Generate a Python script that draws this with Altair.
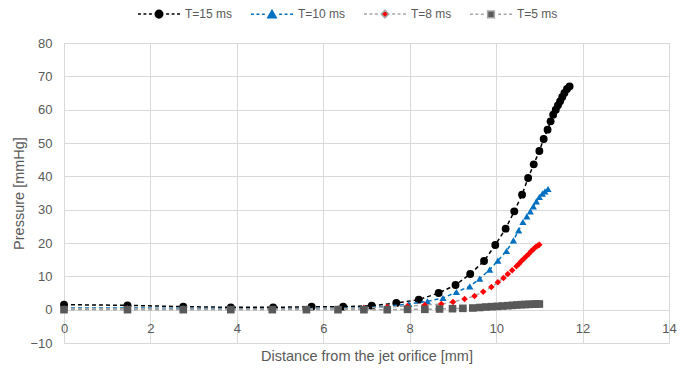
import altair as alt
import pandas as pd

series_names = ["T=15 ms", "T=10 ms", "T=8 ms", "T=5 ms"]

x15 = [0, 1.47, 2.76, 3.86, 4.84, 5.73, 6.46, 7.12, 7.69, 8.21, 8.67, 9.06, 9.4, 9.72, 9.98,
       10.22, 10.42, 10.6, 10.74, 10.87, 11.0, 11.1, 11.19, 11.26, 11.32, 11.38, 11.43, 11.48,
       11.53, 11.58, 11.64, 11.7]
y15 = [1.5, 1.3, 0.9, 0.7, 0.7, 0.9, 0.9, 1.2, 2.0, 3.0, 5.0, 7.4, 10.7, 14.6, 19.4,
       24.3, 29.5, 34.5, 39.5, 43.6, 47.6, 51.2, 54.0, 56.5, 58.5, 60.0, 61.3, 62.5,
       63.8, 65.0, 66.2, 67.0]

x10 = [0, 1.47, 2.76, 3.86, 4.82, 5.61, 6.34, 6.94, 7.48, 7.98, 8.41, 8.77, 9.08, 9.39, 9.62,
       9.85, 10.04, 10.24, 10.4, 10.52, 10.62, 10.71, 10.79, 10.86, 10.93, 11.0, 11.07, 11.13, 11.2]
y10 = [0.5, 0.5, 0.4, 0.3, 0.3, 0.3, 0.4, 0.6, 1.0, 1.7, 2.5, 3.5, 5.3, 7.0, 9.3,
       12.0, 14.7, 17.6, 20.8, 23.8, 26.3, 28.0, 29.5, 31.0, 32.5, 33.8, 34.8, 35.5, 36.2]

x8 = [0, 1.47, 2.76, 3.86, 4.82, 5.61, 6.34, 6.94, 7.48, 7.95, 8.35, 8.73, 9.0, 9.27, 9.5,
      9.7, 9.89, 10.04, 10.17, 10.27, 10.37, 10.47, 10.53, 10.58, 10.64, 10.7, 10.76, 10.81,
      10.86, 10.91, 10.96, 11.0]
y8 = [0.3, 0.3, 0.2, 0.2, 0.2, 0.2, 0.3, 0.5, 0.8, 1.1, 1.4, 1.7, 2.3, 3.2, 4.1,
      5.4, 6.8, 8.2, 9.5, 10.7, 11.8, 13.0, 13.8, 14.5, 15.3, 16.0, 16.8, 17.5,
      18.1, 18.7, 19.2, 19.5]

x5 = [0, 1.47, 2.76, 3.86, 4.82, 5.61, 6.34, 6.94, 7.48, 7.95, 8.35, 8.69, 8.99, 9.23, 9.46,
      9.62, 9.76, 9.9, 10.03, 10.15, 10.27, 10.38, 10.48, 10.58, 10.67, 10.76, 10.85, 10.93, 11.0]
y5 = [0, 0, 0, 0, 0, 0, 0, 0, 0, 0.1, 0.1, 0.2, 0.3, 0.4, 0.5,
      0.65, 0.8, 0.9, 1.0, 1.1, 1.2, 1.3, 1.4, 1.5, 1.55, 1.6, 1.65, 1.7, 1.7]

x_ticks = [0, 2, 4, 6, 8, 10, 12, 14]
y_ticks = [-10, 0, 10, 20, 30, 40, 50, 60, 70, 80]

line_colors = ["#000000", "#0070C0", "#A5A5A5", "#A5A5A5"]
marker_colors = ["#000000", "#0070C0", "#FF0000", "#595959"]
marker_shapes = ["circle", "triangle-up", "diamond", "square"]
marker_sizes = [62, 52, 42, 58]

# legend glyphs: dashed line with the marker in the middle (unit box -1..1)
dashes = ("M-1,0L-0.86,0M-0.74,0L-0.6,0M-0.48,0L-0.34,0"
          "M0.34,0L0.48,0M0.6,0L0.74,0M0.86,0L1,0")
legend_paths = [
    dashes + "M0.18,0A0.18,0.18,0,1,1,-0.18,0A0.18,0.18,0,1,1,0.18,0Z",
    dashes + "M0,-0.19L0.2,0.16L-0.2,0.16Z",
    dashes + "M0,-0.18L0.18,0L0,0.18L-0.18,0Z",
    dashes + "M-0.16,-0.16L0.16,-0.16L0.16,0.16L-0.16,0.16Z",
]

all_x = [x15, x10, x8, x5]
all_y = [y15, y10, y8, y5]
frames = []
for name, xs, ys in zip(series_names, all_x, all_y):
    frames.append(pd.DataFrame({"series": name, "x": xs, "y": ys, "idx": list(range(len(xs)))}))
df = pd.concat(frames, ignore_index=True)

FONT = "Liberation Sans"
TXT = "#595959"
GRID = "#D9D9D9"

xscale = alt.Scale(domain=[0, 14], nice=False, zero=False)
yscale = alt.Scale(domain=[-10, 80], nice=False, zero=False)

x_axis = alt.Axis(values=x_ticks, offset=-33, grid=True, gridColor=GRID, ticks=False, tickSize=0,
                  domain=True, domainColor=GRID, labelPadding=12, labelFlush=False,
                  labelFont=FONT, labelFontSize=13, labelColor=TXT,
                  title="Distance from the jet orifice [mm]", titleFont=FONT,
                  titleFontSize=14.5, titleFontWeight="normal", titleColor=TXT, titleY=46,
                  titleBaseline="middle")
y_axis = alt.Axis(values=y_ticks, grid=True, gridColor=GRID, ticks=False, tickSize=0, domain=False,
                  labelPadding=12, labelFont=FONT, labelFontSize=13, labelColor=TXT,
                  title="Pressure [mmHg]", titleFont=FONT, titleFontSize=14.5,
                  titleFontWeight="normal", titleColor=TXT, titlePadding=3)

xenc = alt.X("x:Q", scale=xscale, axis=x_axis)
yenc = alt.Y("y:Q", scale=yscale, axis=y_axis)

layers = []
for i, name in enumerate(series_names):
    sub = alt.Chart(df).transform_filter(alt.datum.series == name)
    line = sub.mark_line(color=line_colors[i], strokeWidth=1.5, strokeDash=[4, 3]).encode(
        x=xenc, y=yenc, order="idx:Q")
    pts = sub.mark_point(filled=True, shape=marker_shapes[i], color=marker_colors[i],
                         size=marker_sizes[i], opacity=1).encode(x=xenc, y=yenc)
    layers += [line, pts]

leg = alt.Legend(orient="none", legendX=73, legendY=-51, direction="horizontal", title=None,
                 labelFont=FONT, labelFontSize=12, labelColor=TXT, columnPadding=15,
                 labelOffset=4, symbolSize=1764, symbolStrokeWidth=1.5, symbolOpacity=1)

legend_layer = alt.Chart(df).transform_filter(alt.datum.idx == 0).mark_point(
    filled=True, opacity=0, strokeWidth=1.5).encode(
    x=xenc, y=yenc,
    shape=alt.Shape("series:N", scale=alt.Scale(domain=series_names, range=legend_paths),
                    legend=leg, sort=series_names),
    fill=alt.Fill("series:N", scale=alt.Scale(domain=series_names, range=marker_colors),
                  legend=leg, sort=series_names),
    stroke=alt.Stroke("series:N", scale=alt.Scale(domain=series_names, range=line_colors),
                      legend=leg, sort=series_names),
)
layers.append(legend_layer)

chart = alt.layer(*layers).properties(
    width=605, height=300,
    autosize=alt.AutoSizeParams(type="none"),
    padding={"left": 64, "top": 43, "right": 21, "bottom": 26},
).configure_view(stroke=None).configure(background="white")

chart.save("out.html", embed_options={"renderer": "svg", "actions": False})
